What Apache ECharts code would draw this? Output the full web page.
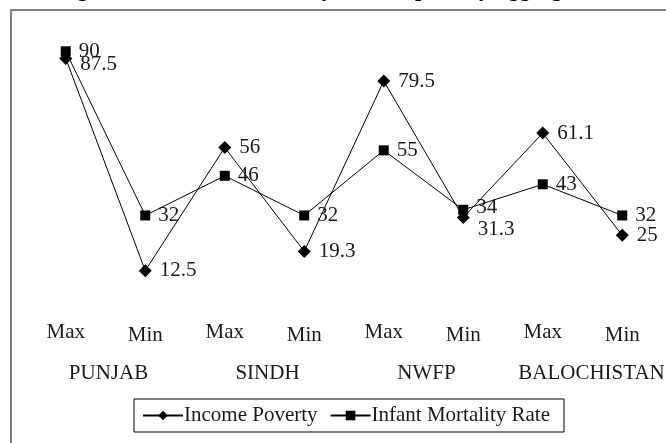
<!DOCTYPE html>
<html><head><meta charset="utf-8">
<script src="https://cdn.jsdelivr.net/npm/echarts@6/dist/echarts.min.js"></script>
<style>html,body{margin:0;padding:0;background:#fff}#c{width:666px;height:443px}</style>
</head><body><div id="c"></div>
<script>
const titleText = "Ranking Districts in Provinces by income poverty aggregation";
const categories = ["Max","Min","Max","Min","Max","Min","Max","Min"];
const provinces = ["PUNJAB","SINDH","NWFP","BALOCHISTAN"];
const incomePoverty = [87.5, 12.5, 56, 19.3, 79.5, 31.3, 61.1, 25];
const infantMortality = [90, 32, 46, 32, 55, 34, 43, 32];
const seriesNames = ["Income Poverty","Infant Mortality Rate"];

const FONT = "Liberation Serif";
const TXT = "#1a1a1a";
const FS = 21;
const incomeLabelOffset = {0:[0,6], 5:[0,12]};
const imrLabelOffset = {5:[0,-2]};

function mk(vals, offs){
  return vals.map((v,i)=> offs[i] ? {value:v, label:{offset:offs[i]}} : v);
}

const chart = echarts.init(document.getElementById('c'), null, {renderer:'canvas'});
chart.setOption({
  animation:false,
  backgroundColor:'#fff',
  title:{text:titleText, left:4, top:-21.5, padding:0,
    textStyle:{fontFamily:FONT, fontSize:23, fontWeight:'bold', color:'#000'}},
  graphic:[{type:'rect', shape:{x:11, y:10, width:800, height:800},
    style:{fill:null, stroke:'#808080', lineWidth:2}, silent:true}],
  grid:{left:26, right:4, top:23, bottom:137, containLabel:false, outerBoundsMode:'none'},
  xAxis:[
    {type:'category', data:categories, boundaryGap:true,
     axisLine:{show:false}, axisTick:{show:false}, splitLine:{show:false},
     axisLabel:{interval:0, margin:16, fontFamily:FONT, fontSize:FS, color:TXT,
       formatter:(v,i)=> i%2 ? '{b|'+v+'}' : '{a|'+v+'}',
       rich:{a:{fontFamily:FONT, fontSize:FS, color:TXT},
             b:{fontFamily:FONT, fontSize:FS, color:TXT, padding:[3,0,0,0]}}}},
    {type:'category', data:provinces, boundaryGap:true, position:'bottom', offset:0,
     axisLine:{show:false}, axisTick:{show:false}, splitLine:{show:false},
     axisLabel:{interval:0, margin:57, fontFamily:FONT, fontSize:FS, color:TXT,
       formatter:(v,i)=> i===3 ? '{e|'+v+'}' : '{p|'+v+'}',
       rich:{p:{fontFamily:FONT, fontSize:FS, color:TXT, padding:[0,0,0,6]},
             e:{fontFamily:FONT, fontSize:FS, color:TXT, padding:[0,0,0,18]}}}}
  ],
  yAxis:{type:'value', min:0, max:100, show:false},
  legend:{left:134, top:399, padding:[6,14,6,8], itemGap:12,
    borderColor:'#000', borderWidth:1, backgroundColor:'#fff',
    itemWidth:40, itemHeight:12,
    textStyle:{fontFamily:FONT, fontSize:FS, color:TXT, padding:[0,0,0,-4]},
    data:seriesNames},
  series:[
    {name:seriesNames[0], type:'line', xAxisIndex:0, data:mk(incomePoverty, incomeLabelOffset),
     symbol:'diamond', symbolSize:13, lineStyle:{color:'#000', width:1},
     itemStyle:{color:'#000'},
     label:{show:true, position:'right', distance:8, fontFamily:FONT, fontSize:FS, color:TXT}},
    {name:seriesNames[1], type:'line', xAxisIndex:0, data:mk(infantMortality, imrLabelOffset),
     symbol:'rect', symbolSize:10, lineStyle:{color:'#000', width:1},
     itemStyle:{color:'#000'},
     label:{show:true, position:'right', distance:8, fontFamily:FONT, fontSize:FS, color:TXT}}
  ]
});
</script></body></html>
